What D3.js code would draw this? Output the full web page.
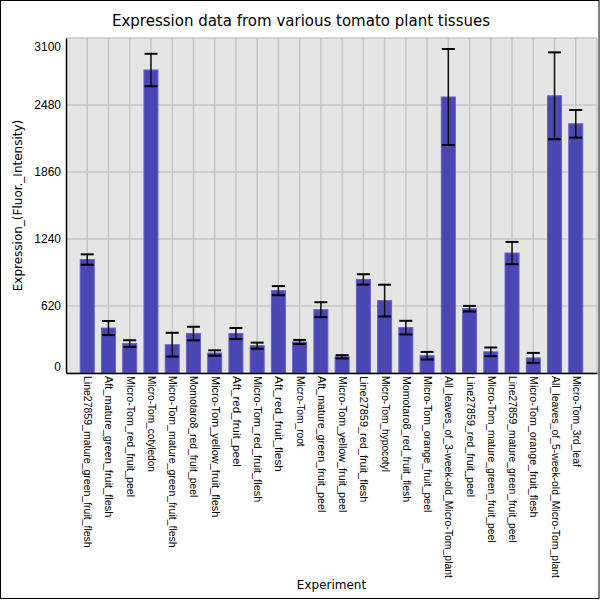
<!DOCTYPE html>
<html>
<head>
<meta charset="utf-8">
<script src="https://cdn.jsdelivr.net/npm/d3@7"></script>
<style>
  body { margin: 0; background: #fff; }
  svg { font-family: "DejaVu Sans", sans-serif; }
</style>
</head>
<body>
<div id="chart"></div>
<script>
// tissues, in drawing order
const tissues = [
  "Line27859_mature_green_fruit_flesh",
  "Aft_mature_green_fruit_flesh",
  "Micro-Tom_red_fruit_peel",
  "Micro-Tom_cotyledon",
  "Micro-Tom_mature_green_fruit_flesh",
  "Momotaro8_red_fruit_peel",
  "Micro-Tom_yellow_fruit_flesh",
  "Aft_red_fruit_peel",
  "Micro-Tom_red_fruit_flesh",
  "Aft_red_fruit_flesh",
  "Micro-Tom_root",
  "Aft_mature_green_fruit_peel",
  "Micro-Tom_yellow_fruit_peel",
  "Line27859_red_fruit_flesh",
  "Micro-Tom_hypocotyl",
  "Momotaro8_red_fruit_flesh",
  "Micro-Tom_orange_fruit_peel",
  "All_leaves_of_3-week-old_Micro-Tom_plant",
  "Line27859_red_fruit_peel",
  "Micro-Tom_mature_green_fruit_peel",
  "Line27859_mature_green_fruit_peel",
  "Micro-Tom_orange_fruit_flesh",
  "All_leaves_of_5-week-old_Micro-Tom_plant",
  "Micro-Tom_3rd_leaf"
];

const expression = [1050, 416, 272, 2804, 262, 365, 185, 365, 253, 762, 287, 586,
                    150, 866, 670, 420, 160, 2554, 595, 196, 1110, 140, 2565, 2306];

const errors = [48, 65, 31, 150, 110, 63, 25, 51, 28, 42, 19, 69,
                15, 48, 147, 63, 35, 444, 26, 40, 103, 46, 402, 128];

const yTicks = [0, 620, 1240, 1860, 2480, 3100];

const W = 600, H = 600;
const margin = { top: 38, right: 3, bottom: 227, left: 66 };
const width = W - margin.left - margin.right,
      height = H - margin.top - margin.bottom;

const svg = d3.select("#chart").append("svg")
    .attr("width", W)
    .attr("height", H);

// outer frame
svg.append("rect")
    .attr("x", 0.5).attr("y", 0.5)
    .attr("width", W - 1.5).attr("height", H - 2)
    .attr("fill", "none")
    .attr("stroke", "#000");

svg.append("text")
    .attr("x", 301).attr("y", 26)
    .attr("text-anchor", "middle")
    .style("font-size", "15px")
    .text("Expression data from various tomato plant tissues");

const g = svg.append("g")
    .attr("transform", `translate(${margin.left},${margin.top})`);

const x = d3.scalePoint().domain(tissues).range([0, width]).padding(1);
const y = d3.scaleLinear().domain([0, 3100]).range([height, 0]);

g.append("rect")
    .attr("width", width).attr("height", height)
    .attr("fill", "#e5e5e5");

// grid
g.selectAll(".vgrid")
    .data(tissues)
    .enter().append("line")
    .attr("x1", d => x(d)).attr("x2", d => x(d))
    .attr("y1", 0).attr("y2", height)
    .attr("stroke", "#c6c6c6")
    .attr("stroke-width", 1.5);

g.selectAll(".hgrid")
    .data(yTicks)
    .enter().append("line")
    .attr("x1", 0).attr("x2", width)
    .attr("y1", d => y(d)).attr("y2", d => y(d))
    .attr("stroke", "#c6c6c6")
    .attr("stroke-width", 1.5);

g.append("line")
    .attr("x1", width).attr("x2", width)
    .attr("y1", 0).attr("y2", height)
    .attr("stroke", "#c6c6c6")
    .attr("stroke-width", 1.5);

// bars
const barW = 14;
g.selectAll(".bar")
    .data(tissues)
    .enter().append("rect")
    .attr("x", d => x(d) - barW / 2)
    .attr("y", (d, i) => y(expression[i]))
    .attr("width", barW)
    .attr("height", (d, i) => height - y(expression[i]))
    .attr("fill", "#4a46b3")
    .attr("stroke", "#6662c4")
    .attr("stroke-width", 1);

// error bars
const capW = 13;
tissues.forEach((t, i) => {
    const cx = x(t);
    const hi = y(expression[i] + errors[i]);
    const lo = y(expression[i] - errors[i]);
    g.append("line")
        .attr("x1", cx).attr("x2", cx)
        .attr("y1", hi).attr("y2", lo)
        .attr("stroke", "#111").attr("stroke-width", 1.5);
    [hi, lo].forEach(yy => {
        g.append("line")
            .attr("x1", cx - capW / 2).attr("x2", cx + capW / 2)
            .attr("y1", yy).attr("y2", yy)
            .attr("stroke", "#000").attr("stroke-width", 2);
    });
});

// axes
const yAxis = g.append("g")
    .call(d3.axisLeft(y).tickValues(yTicks).tickFormat(d3.format("d")).tickSize(0).tickPadding(5));
yAxis.select(".domain").attr("stroke", "#000").attr("stroke-width", 1.5);
yAxis.selectAll("text")
    .style("font-size", "12px")
    .attr("fill", "#000")
    .attr("dy", d => d === 0 ? "-0.2em" : d === 3100 ? "1.0em" : "0.32em");

const xAxis = g.append("g")
    .attr("transform", `translate(0,${height})`)
    .call(d3.axisBottom(x).tickSize(0).tickPadding(0));
xAxis.select(".domain").attr("stroke", "#000").attr("stroke-width", 1.5);
// labels in the original run at about 5px per character
xAxis.selectAll("text")
    .style("font-size", "10px")
    .attr("fill", "#000")
    .attr("text-anchor", "start")
    .attr("dy", "0.35em")
    .attr("textLength", d => d.length * 5.05)
    .attr("lengthAdjust", "spacingAndGlyphs")
    .attr("transform", "translate(0,3) rotate(90)");

svg.append("text")
    .attr("x", margin.left + width / 2).attr("y", 589)
    .attr("text-anchor", "middle")
    .style("font-size", "12px")
    .text("Experiment");

svg.append("text")
    .attr("transform", "rotate(-90)")
    .attr("x", -(margin.top + height / 2)).attr("y", 22)
    .attr("text-anchor", "middle")
    .style("font-size", "12px")
    .text("Expression_(Fluor._Intensity)");
</script>
</body>
</html>
